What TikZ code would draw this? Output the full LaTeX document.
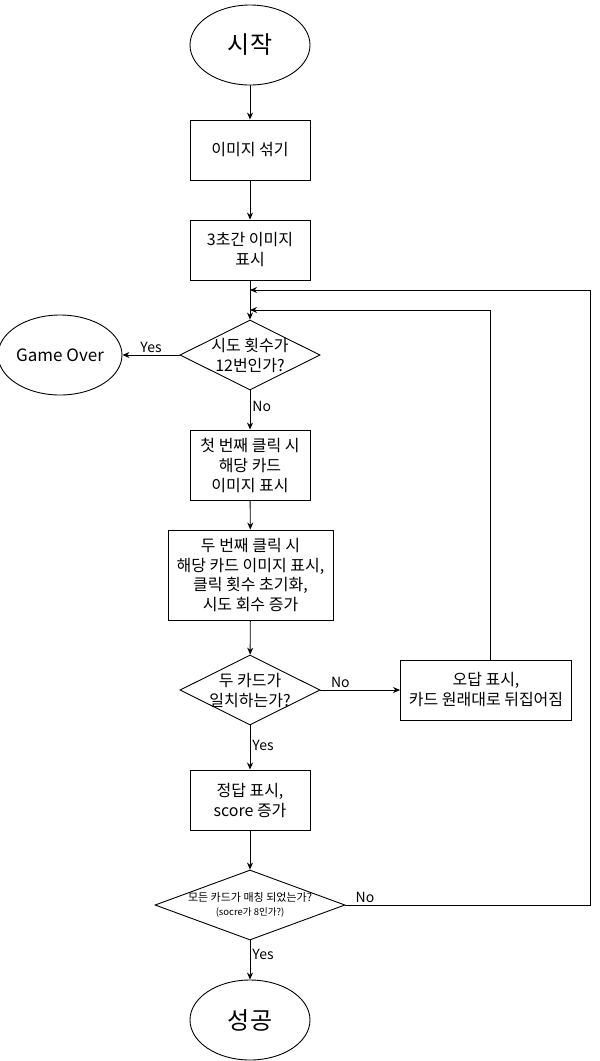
\documentclass[tikz,border=0pt]{standalone}
\usepackage{fontspec}
\setmainfont{Noto Sans CJK KR}
\usetikzlibrary{shapes.geometric, arrows.meta}

\tikzset{
    every node/.style = {font = \fontsize{16}{20}\selectfont},
    flowline/.style = {line width = 0.9pt},
    arrow/.style = {flowline, -{Stealth[length = 7pt, width = 6pt]}},
    terminal/.style = {draw, flowline, ellipse, minimum width = 120pt, minimum height = 80pt, inner sep = 0pt},
    process/.style = {draw, flowline, rectangle, minimum width = 120pt, minimum height = 60pt, align = center},
    decision/.style = {draw, flowline, diamond, minimum width = 140pt, minimum height = 70pt, inner sep = 0pt},
    qtext/.style = {align = center, inner sep = 0pt},
    lbl/.style = {font = \fontsize{14}{16}\selectfont, inner sep = 2pt}
}

\begin{document}
\begin{tikzpicture}[x = 1pt, y = -1pt]
    \useasboundingbox (0, 0) rectangle (600, 1061);

    % main column
    \node[terminal, font = \fontsize{24}{28}\selectfont] (start) at (250, 45) {시작};
    \node[process] (shuffle) at (250, 150) {이미지 섞기};
    \node[process] (show) at (250, 250) {3초간 이미지\\표시};
    \node[decision, label = {[qtext]center:시도 횟수가\\12번인가?}] (tries) at (250, 355) {};
    \node[terminal, font = \fontsize{17}{20}\selectfont] (over) at (60, 355) {Game Over};
    \node[process, minimum height = 70pt] (first) at (250, 465) {첫 번째 클릭 시\\해당 카드\\이미지 표시};
    \node[process, minimum width = 165pt, minimum height = 90pt, font = \fontsize{16}{19.5}\selectfont] (second) at (250.5, 575)
        {두 번째 클릭 시\\해당 카드 이미지 표시,\\클릭 횟수 초기화,\\시도 회수 증가};
    \node[decision, label = {[qtext]center:두 카드가\\일치하는가?}] (match) at (250, 690) {};
    \node[process, minimum width = 171pt] (wrong) at (486, 690) {오답 표시,\\카드 원래대로 뒤집어짐};
    \node[process] (right) at (250, 800) {정답 표시,\\score 증가};
    \node[decision, minimum width = 190pt,
        label = {[qtext, font = \fontsize{11}{14.5}\selectfont]center:모든 카드가 매칭 되었는가?\\{\fontsize{9.5}{14.5}\selectfont (socre가 8인가?)}}] (all) at (250, 905) {};
    \node[terminal, font = \fontsize{24}{28}\selectfont] (done) at (250, 1020) {성공};

    \coordinate (joinA) at (250, 290);
    \coordinate (joinB) at (250, 310);
    \coordinate (outer) at (590, 290);

    % connectors
    \draw[arrow] (start) -- (shuffle);
    \draw[arrow] (shuffle) -- (show);
    \draw[arrow] (show) -- (tries);
    \draw[arrow] (tries.west) -- node[lbl, above] {Yes} (over.east);
    \draw[arrow] (tries.south) -- node[lbl, right, pos = 0.4] {No} (first.north);
    \draw[arrow] (first) -- (second);
    \draw[arrow] (second) -- (match);
    \draw[arrow] (match.east) -- node[lbl, above, pos = 0.25] {No} (wrong.west);
    \draw[arrow] ([xshift = 4pt]wrong.north) |- (joinB);
    \draw[arrow] (match.south) -- node[lbl, right, pos = 0.45] {Yes} (right.north);
    \draw[arrow] (right) -- (all);
    \draw[arrow] (all.east) -| node[lbl, above, pos = 0.04] {No} (outer) -- (joinA);
    \draw[arrow] (all.south) -- node[lbl, right, pos = 0.35] {Yes} (done.north);
\end{tikzpicture}
\end{document}
